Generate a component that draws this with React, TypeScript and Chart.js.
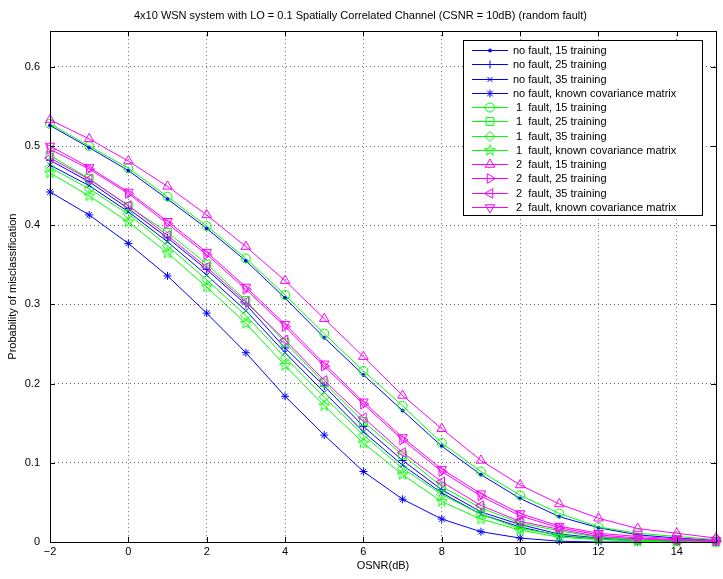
import React, { useEffect, useRef } from 'react';
import { Chart, registerables } from 'chart.js';
import { drawPoint } from 'chart.js/helpers';

Chart.register(...registerables);

const osnr = [-2, -1, 0, 1, 2, 3, 4, 5, 6, 7, 8, 9, 10, 11, 12, 13, 14, 15];

const noFault15 = [0.526, 0.498, 0.469, 0.433, 0.396, 0.355, 0.308, 0.258, 0.211, 0.166, 0.121, 0.085, 0.055, 0.032, 0.018, 0.009, 0.005, 0.002];
const noFault25 = [0.482, 0.455, 0.421, 0.384, 0.344, 0.300, 0.245, 0.197, 0.146, 0.103, 0.066, 0.038, 0.022, 0.010, 0.005, 0.002, 0.001, 0.001];
const noFault35 = [0.476, 0.450, 0.417, 0.379, 0.337, 0.292, 0.239, 0.189, 0.139, 0.097, 0.062, 0.035, 0.019, 0.008, 0.004, 0.002, 0.001, 0.000];
const noFaultKnown = [0.442, 0.413, 0.377, 0.336, 0.289, 0.239, 0.184, 0.135, 0.089, 0.054, 0.029, 0.013, 0.005, 0.001, 0.000, 0.000, 0.000, 0.000];
const oneFault15 = [0.528, 0.500, 0.472, 0.436, 0.399, 0.358, 0.312, 0.263, 0.216, 0.172, 0.125, 0.089, 0.059, 0.036, 0.019, 0.011, 0.007, 0.003];
const oneFault25 = [0.488, 0.459, 0.424, 0.391, 0.351, 0.305, 0.252, 0.201, 0.152, 0.110, 0.070, 0.043, 0.024, 0.014, 0.006, 0.003, 0.002, 0.001];
const oneFault35 = [0.473, 0.446, 0.414, 0.374, 0.331, 0.286, 0.233, 0.183, 0.135, 0.093, 0.060, 0.035, 0.017, 0.009, 0.004, 0.002, 0.001, 0.000];
const oneFaultKnown = [0.466, 0.437, 0.404, 0.365, 0.322, 0.276, 0.223, 0.172, 0.125, 0.085, 0.051, 0.029, 0.015, 0.006, 0.003, 0.001, 0.000, 0.000];
const twoFault15 = [0.533, 0.509, 0.481, 0.449, 0.413, 0.373, 0.330, 0.282, 0.234, 0.185, 0.143, 0.103, 0.072, 0.048, 0.030, 0.017, 0.011, 0.005];
const twoFault25 = [0.496, 0.471, 0.440, 0.402, 0.363, 0.319, 0.272, 0.222, 0.174, 0.129, 0.089, 0.058, 0.033, 0.018, 0.009, 0.005, 0.003, 0.001];
const twoFault35 = [0.485, 0.458, 0.425, 0.387, 0.347, 0.303, 0.255, 0.204, 0.157, 0.113, 0.076, 0.046, 0.026, 0.016, 0.007, 0.004, 0.002, 0.001];
const twoFaultKnown = [0.500, 0.473, 0.442, 0.405, 0.366, 0.322, 0.275, 0.225, 0.177, 0.132, 0.092, 0.061, 0.036, 0.020, 0.011, 0.007, 0.004, 0.002];

const seriesLabels = [
  'no fault, 15 training',
  'no fault, 25 training',
  'no fault, 35 training',
  'no fault, known covariance matrix',
  ' 1  fault, 15 training',
  ' 1  fault, 25 training',
  ' 1  fault, 35 training',
  ' 1  fault, known covariance matrix',
  ' 2  fault, 15 training',
  ' 2  fault, 25 training',
  ' 2  fault, 35 training',
  ' 2  fault, known covariance matrix',
];
const seriesValues = [
  noFault15, noFault25, noFault35, noFaultKnown,
  oneFault15, oneFault25, oneFault35, oneFaultKnown,
  twoFault15, twoFault25, twoFault35, twoFaultKnown,
];

const titleText = '4x10 WSN system with LO = 0.1 Spatially Correlated Channel (CSNR = 10dB) (random fault)';
const xTitle = 'OSNR(dB)';
const yTitle = 'Probability of misclassification';

const BLUE = '#0000ff';
const GREEN = '#00ff00';
const MAGENTA = '#ff00ff';
const FONT = '"Liberation Sans", Arial, Helvetica, sans-serif';

function makePentagram(color: string): HTMLCanvasElement {
  const c = document.createElement('canvas');
  c.width = 13;
  c.height = 13;
  const g = c.getContext('2d')!;
  const cx = 6.5, cy = 6.5, ro = 5.8, ri = 2.3;
  g.strokeStyle = color;
  g.lineWidth = 1;
  g.beginPath();
  for (let i = 0; i < 10; i++) {
    const r = i % 2 === 0 ? ro : ri;
    const a = -Math.PI / 2 + (i * Math.PI) / 5;
    const px = cx + r * Math.cos(a);
    const py = cy + r * Math.sin(a);
    if (i === 0) g.moveTo(px, py);
    else g.lineTo(px, py);
  }
  g.closePath();
  g.stroke();
  return c;
}

export default function App() {
  const ref = useRef<HTMLCanvasElement>(null);

  useEffect(() => {
    if (!ref.current) return;
    const pent = makePentagram(GREEN);
    const colors = [BLUE, BLUE, BLUE, BLUE, GREEN, GREEN, GREEN, GREEN, MAGENTA, MAGENTA, MAGENTA, MAGENTA];
    const styles: any[] = ['circle', 'cross', 'crossRot', 'star', 'circle', 'rect', 'rectRot', pent, 'triangle', 'triangle', 'triangle', 'triangle'];
    const rotations = [0, 0, 0, 0, 0, 0, 0, 0, 0, 90, 270, 180];
    const radii = [1.5, 4, 3.5, 4, 4.5, 5.5, 5, 6, 5.5, 5.5, 5.5, 5.5];

    const datasets = seriesValues.map((vals, i) => ({
      label: seriesLabels[i],
      data: vals.map((v, j) => ({ x: osnr[j], y: v })),
      borderColor: colors[i],
      backgroundColor: i === 0 ? colors[i] : 'rgba(0,0,0,0)',
      borderWidth: 1,
      pointStyle: styles[i],
      pointRotation: rotations[i],
      pointRadius: radii[i],
      pointBorderWidth: 1,
      pointBorderColor: colors[i],
      pointBackgroundColor: i === 0 ? colors[i] : 'rgba(0,0,0,0)',
      tension: 0,
      clip: false as any,
      order: 12 - i,
    }));

    const boxPlugin = {
      id: 'boxPlugin',
      afterDatasetsDraw(chart: any) {
        const { ctx, chartArea: a, scales } = chart;
        ctx.save();
        ctx.strokeStyle = '#000';
        ctx.lineWidth = 1;
        ctx.setLineDash([]);
        ctx.beginPath();
        const tl = 5;
        scales.x.ticks.forEach((t: any) => {
          const px = Math.round(scales.x.getPixelForValue(t.value)) + 0.5;
          ctx.moveTo(px, a.bottom); ctx.lineTo(px, a.bottom - tl);
          ctx.moveTo(px, a.top); ctx.lineTo(px, a.top + tl);
        });
        scales.y.ticks.forEach((t: any) => {
          const py = Math.round(scales.y.getPixelForValue(t.value)) + 0.5;
          ctx.moveTo(a.left, py); ctx.lineTo(a.left + tl, py);
          ctx.moveTo(a.right, py); ctx.lineTo(a.right - tl, py);
        });
        ctx.stroke();
        ctx.strokeRect(Math.round(a.left) + 0.5, Math.round(a.top) + 0.5, Math.round(a.right - a.left), Math.round(a.bottom - a.top));
        ctx.restore();
      },
      afterDraw(chart: any) {
        const { ctx, chartArea: a } = chart;
        const w = 239, h = 175;
        const x0 = a.right - 14 - w;
        const y0 = a.top + 9;
        ctx.save();
        ctx.setLineDash([]);
        ctx.fillStyle = '#fff';
        ctx.fillRect(x0, y0, w, h);
        ctx.strokeStyle = '#000';
        ctx.lineWidth = 1;
        ctx.strokeRect(Math.round(x0) + 0.5, Math.round(y0) + 0.5, w, h);
        ctx.font = '11px ' + FONT;
        ctx.textBaseline = 'middle';
        ctx.textAlign = 'left';
        chart.data.datasets.forEach((ds: any, i: number) => {
          const cy = Math.round(y0 + 10 + i * 14.25) + 0.5;
          ctx.strokeStyle = ds.borderColor;
          ctx.lineWidth = 1;
          ctx.beginPath();
          ctx.moveTo(x0 + 9, cy);
          ctx.lineTo(x0 + 45, cy);
          ctx.stroke();
          ctx.fillStyle = ds.pointBackgroundColor;
          ctx.strokeStyle = ds.borderColor;
          drawPoint(ctx, {
            pointStyle: ds.pointStyle,
            rotation: ds.pointRotation,
            radius: ds.pointRadius,
            borderWidth: 1,
          } as any, x0 + 27, cy);
          ctx.fillStyle = '#000';
          ctx.fillText(ds.label, x0 + 50, cy);
        });
        ctx.restore();
      },
    };

    const chart = new Chart(ref.current, {
      type: 'line',
      data: { datasets: datasets as any },
      options: {
        responsive: false,
        animation: false,
        devicePixelRatio: 1,
        layout: { padding: { left: 0, right: 2, top: 0, bottom: 0 } },
        plugins: {
          legend: { display: false },
          tooltip: { enabled: false },
          title: {
            display: true,
            text: titleText,
            color: '#000',
            font: { size: 11, weight: 'normal', family: FONT },
            padding: { top: 9, bottom: 9 },
          },
        },
        scales: {
          x: {
            type: 'linear',
            min: -2,
            max: 15,
            afterFit: (s: any) => { s.height = 37; s.paddingLeft = 0; s.paddingRight = 0; },
            ticks: {
              stepSize: 2,
              includeBounds: false,
              color: '#000',
              font: { size: 11, family: FONT },
              padding: 3,
              maxRotation: 0,
              callback: (v: any) => String(v).replace('-', '\u2212'),
            },
            grid: { color: '#666', drawTicks: false, lineWidth: 1 },
            border: { display: false, dash: [1, 3] },
            title: {
              display: true,
              text: xTitle,
              color: '#000',
              font: { size: 11, family: FONT },
              padding: { top: 0, bottom: 6 },
            },
          },
          y: {
            type: 'linear',
            min: 0,
            max: 0.645,
            afterFit: (s: any) => { s.width = 50; s.paddingTop = 0; s.paddingBottom = 0; },
            ticks: {
              stepSize: 0.1,
              includeBounds: false,
              color: '#000',
              font: { size: 11, family: FONT },
              padding: 10,
            },
            grid: { color: '#666', drawTicks: false, lineWidth: 1 },
            border: { display: false, dash: [1, 3] },
            title: {
              display: true,
              text: yTitle,
              color: '#000',
              font: { size: 11, family: FONT },
              padding: { top: 6, bottom: 0 },
            },
          },
        },
      } as any,
      plugins: [boxPlugin],
    });
    return () => chart.destroy();
  }, []);

  return (
    <div style={{ position: 'fixed', left: 0, top: 0, width: 723, height: 579, background: '#fff' }}>
      <canvas ref={ref} width={723} height={579} style={{ display: 'block' }} />
    </div>
  );
}
